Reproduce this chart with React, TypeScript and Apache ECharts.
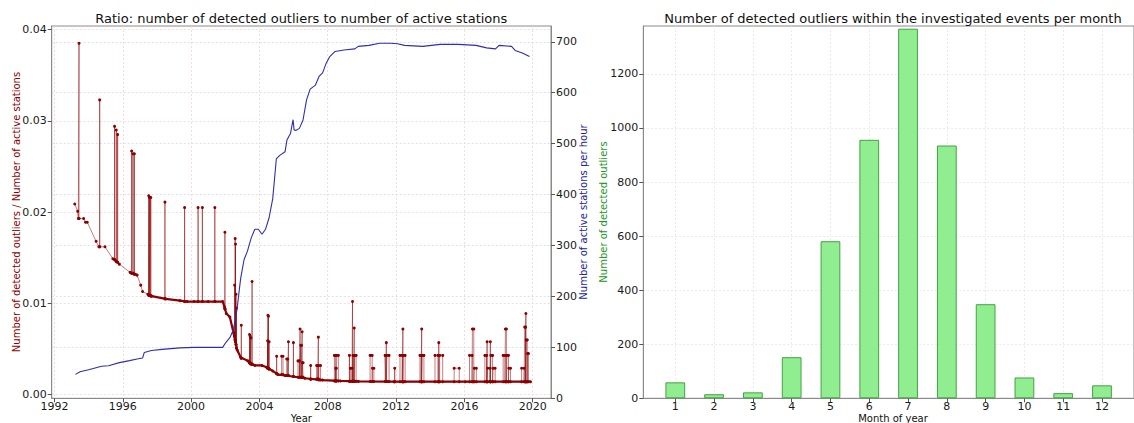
import React, { useEffect, useRef } from "react";
import * as echarts from "echarts";

// ---------- tick labels ----------
const yearTicks = [1992, 1996, 2000, 2004, 2008, 2012, 2016, 2020];
const ratioTicks = [0, 0.01, 0.02, 0.03, 0.04];
const stationTicks = [0, 100, 200, 300, 400, 500, 600, 700];
const countTicks = [0, 200, 400, 600, 800, 1000, 1200];

// ---------- right panel: outliers per month ----------
const months = [1, 2, 3, 4, 5, 6, 7, 8, 9, 10, 11, 12];
const outlierCounts = [59, 15, 22, 152, 581, 956, 1367, 935, 348, 77, 19, 48];

// ---------- left panel: active stations per hour ----------
const stationYears = [
  1993.23, 1993.5, 1994.0, 1994.76, 1995.17, 1995.8, 1996.4, 1996.84, 1997.16, 1997.26,
  1997.68, 1998.3, 1999.35, 2000.18, 2001.0, 2001.85, 2002.02, 2002.27, 2002.48, 2002.69,
  2002.9, 2003.1, 2003.3, 2003.52, 2003.73, 2003.94, 2004.15, 2004.36, 2004.57, 2004.78,
  2004.99, 2005.19, 2005.5, 2005.61, 2005.82, 2005.97, 2006.03, 2006.13, 2006.34, 2006.55,
  2006.76, 2006.97, 2007.28, 2007.49, 2007.7, 2007.91, 2008.12, 2008.43, 2008.95, 2009.58,
  2009.79, 2010.41, 2011.04, 2011.67, 2012.08, 2012.5, 2013.55, 2014.59, 2015.63, 2016.68,
  2017.3, 2017.82, 2018.03, 2018.76, 2018.97, 2019.39, 2019.81,
];
const stationCounts = [
  47, 52, 56, 63, 64, 70, 74, 77, 79, 90,
  94, 96, 99, 100, 100, 100, 109, 119, 135, 175,
  235, 272, 289, 315, 332, 332, 322, 332, 355, 392,
  470, 477, 484, 507, 520, 547, 527, 526, 530, 546,
  586, 607, 615, 632, 639, 658, 671, 681, 684, 686,
  691, 693, 697, 697, 696, 693, 691, 695, 695, 693,
  688, 686, 693, 691, 683, 678, 671,
];

// ---------- left panel: ratio baseline ----------
const baseYears = [
  1993.19, 1993.36, 1993.4, 1993.71, 1993.82, 1993.92, 1994.44, 1994.6, 1994.96, 1995.42,
  1995.58, 1995.8, 1996.43, 1996.74, 1996.84, 1997.05, 1997.16, 1997.47, 1997.7, 1998.51,
  1999.35, 1999.77, 2000.18, 2001.0, 2001.85, 2001.96, 2002.06, 2002.27, 2002.48, 2002.7,
  2002.9, 2003.32, 2003.73, 2004.15, 2004.42, 2004.78, 2005.09, 2005.5, 2006.66, 2007.7,
  2008.74, 2009.79, 2011.87, 2016.05, 2019.87,
];
const baseRatios = [
  0.0209, 0.0201, 0.0193, 0.0193, 0.0189, 0.0189, 0.0168, 0.0162, 0.0162, 0.0149,
  0.0147, 0.0143, 0.0134, 0.0132, 0.0131, 0.012, 0.0113, 0.011, 0.0108, 0.0105,
  0.0103, 0.0102, 0.0102, 0.0102, 0.0102, 0.0096, 0.0089, 0.0085, 0.0068, 0.0049,
  0.0041, 0.0037, 0.0032, 0.0032, 0.003, 0.0026, 0.0022, 0.0021, 0.0018, 0.0016,
  0.0015, 0.00145, 0.00142, 0.00142, 0.00142,
];

// ---------- left panel: outlier spikes [start year, end year, peak ratio, base ratio] ----------
const spikeEvents: [number, number, number, number][] = [
  [1993.44, 1993.44, 0.0385, 0.0193],
  [1994.65, 1994.65, 0.0323, 0.0162],
  [1995.52, 1995.52, 0.0294, 0.0148],
  [1995.62, 1995.62, 0.029, 0.0146],
  [1995.7, 1995.7, 0.0285, 0.0145],
  [1996.52, 1996.52, 0.0267, 0.0133],
  [1996.6, 1996.6, 0.0264, 0.0133],
  [1996.68, 1996.68, 0.0264, 0.0132],
  [1997.52, 1997.52, 0.0218, 0.0109],
  [1997.56, 1997.56, 0.0216, 0.0109],
  [1997.6, 1997.6, 0.0216, 0.0109],
  [1997.64, 1997.64, 0.0216, 0.0108],
  [1998.47, 1998.47, 0.0211, 0.0105],
  [1999.62, 1999.62, 0.0205, 0.0102],
  [2000.41, 2000.41, 0.0205, 0.0102],
  [2000.66, 2000.66, 0.0205, 0.0102],
  [2001.39, 2001.39, 0.0205, 0.0102],
  [2001.98, 2001.98, 0.0178, 0.0094],
  [2002.55, 2002.55, 0.012, 0.0064],
  [2002.58, 2002.58, 0.0171, 0.006],
  [2002.6, 2002.6, 0.0165, 0.0058],
  [2002.63, 2002.63, 0.011, 0.0055],
  [2002.66, 2002.66, 0.0095, 0.0051],
  [2002.94, 2002.94, 0.0076, 0.004],
  [2003.42, 2003.42, 0.0066, 0.0035],
  [2003.46, 2003.46, 0.0064, 0.0034],
  [2003.5, 2003.5, 0.0062, 0.0034],
  [2003.57, 2003.57, 0.0124, 0.0033],
  [2004.48, 2004.48, 0.0059, 0.0029],
  [2004.5, 2004.5, 0.0087, 0.0029],
  [2004.53, 2004.53, 0.0086, 0.0029],
  [2004.57, 2004.57, 0.0058, 0.0028],
  [2005.01, 2005.01, 0.0042, 0.0023],
  [2005.3, 2005.38, 0.0042, 0.0022],
  [2005.6, 2005.66, 0.0039, 0.0021],
  [2005.7, 2005.7, 0.0058, 0.0021],
  [2005.99, 2005.99, 0.0057, 0.002],
  [2006.26, 2006.34, 0.0037, 0.0019],
  [2006.38, 2006.38, 0.0072, 0.0019],
  [2006.42, 2006.46, 0.0054, 0.0019],
  [2006.5, 2006.5, 0.0069, 0.0019],
  [2006.52, 2006.56, 0.0035, 0.0019],
  [2007.0, 2007.0, 0.0032, 0.0017],
  [2007.35, 2007.42, 0.0032, 0.0017],
  [2007.45, 2007.45, 0.0063, 0.0017],
  [2007.48, 2007.58, 0.0032, 0.0016],
  [2008.39, 2008.45, 0.0043, 0.0015],
  [2008.47, 2008.5, 0.0029, 0.0015],
  [2008.52, 2008.62, 0.0043, 0.0015],
  [2009.27, 2009.27, 0.0043, 0.00146],
  [2009.32, 2009.42, 0.0029, 0.00146],
  [2009.45, 2009.45, 0.0102, 0.00146],
  [2009.48, 2009.52, 0.0043, 0.00146],
  [2009.55, 2009.55, 0.0073, 0.00146],
  [2009.58, 2009.66, 0.0043, 0.00146],
  [2010.48, 2010.6, 0.0043, 0.00144],
  [2010.62, 2010.7, 0.0029, 0.00144],
  [2011.36, 2011.4, 0.0043, 0.00143],
  [2011.43, 2011.43, 0.0057, 0.00143],
  [2011.46, 2011.59, 0.0043, 0.00143],
  [2011.92, 2011.92, 0.0029, 0.00142],
  [2012.23, 2012.36, 0.0043, 0.00142],
  [2012.4, 2012.4, 0.0072, 0.00142],
  [2012.43, 2012.53, 0.0043, 0.00142],
  [2013.4, 2013.47, 0.0043, 0.00142],
  [2013.5, 2013.5, 0.0072, 0.00142],
  [2013.53, 2013.63, 0.0043, 0.00142],
  [2014.28, 2014.45, 0.0043, 0.00142],
  [2014.5, 2014.5, 0.0057, 0.00142],
  [2014.55, 2014.73, 0.0043, 0.00142],
  [2015.4, 2015.7, 0.0029, 0.00142],
  [2016.3, 2016.45, 0.0043, 0.00142],
  [2016.47, 2016.55, 0.0072, 0.00142],
  [2016.58, 2016.7, 0.0029, 0.00142],
  [2017.2, 2017.3, 0.0043, 0.00142],
  [2017.33, 2017.33, 0.0058, 0.00142],
  [2017.36, 2017.5, 0.0029, 0.00142],
  [2017.52, 2017.52, 0.0058, 0.00142],
  [2017.55, 2017.65, 0.0043, 0.00142],
  [2017.68, 2017.8, 0.0029, 0.00142],
  [2018.27, 2018.38, 0.0043, 0.00142],
  [2018.4, 2018.46, 0.0072, 0.00142],
  [2018.49, 2018.58, 0.0043, 0.00142],
  [2018.6, 2018.7, 0.0029, 0.00142],
  [2019.35, 2019.5, 0.0029, 0.00142],
  [2019.53, 2019.58, 0.0074, 0.00142],
  [2019.6, 2019.6, 0.0089, 0.00142],
  [2019.62, 2019.68, 0.006, 0.00142],
  [2019.7, 2019.75, 0.0045, 0.00142],
];

const FONT = "DejaVu Sans";

function buildRatioSeries(): [number, number][] {
  const pts: { t: number; v: number; i: number }[] = [];
  let idx = 0;
  baseYears.forEach((t, k) => pts.push({ t, v: baseRatios[k], i: idx++ }));
  spikeEvents.forEach(([s, e, peak, base]) => {
    const seq: [number, number][] =
      s === e
        ? [[s, base], [s, peak], [s, base]]
        : [[s, base], [s, peak], [e, peak], [e, base]];
    seq.forEach(([t, v]) => pts.push({ t, v, i: idx++ }));
  });
  pts.sort((a, b) => a.t - b.t || a.i - b.i);
  return pts.map((p) => [p.t, p.v]);
}

function buildOption(): any {
  const ratioData = buildRatioSeries();
  const denseData = baseYears
    .map((t, k) => [t, baseRatios[k]])
    .filter((p) => p[0] >= 1997.4);
  const stationData = stationYears.map((t, k) => [t, stationCounts[k]]);
  const barData = months.map((m, k) => [m, outlierCounts[k]]);

  const spine = "#8a8a8a";
  const tickStyle = { show: true, length: 4, lineStyle: { color: "#555", width: 1 } };
  const labelBase = { fontSize: 11, lineHeight: 11, color: "#1a1a1a", fontFamily: FONT };

  const txt = (text: string, x: number, y: number, size: number, color: string, rot = 0) => ({
    type: "text",
    x,
    y,
    rotation: rot,
    silent: true,
    style: {
      text,
      fill: color,
      fontSize: size,
      fontFamily: FONT,
      align: "center",
      verticalAlign: "middle",
      textAlign: "center",
      textVerticalAlign: "middle",
    },
  });

  return {
    animation: false,
    backgroundColor: "#ffffff",
    textStyle: { fontFamily: FONT },
    grid: [
      { left: 51.7, top: 26, width: 499.3, height: 372.3, show: true, borderColor: spine, borderWidth: 1, containLabel: false },
      { left: 643.3, top: 26, width: 499.7, height: 372.3, show: true, borderColor: spine, borderWidth: 1, containLabel: false },
    ],
    xAxis: [
      {
        type: "value",
        gridIndex: 0,
        min: 1991.84,
        max: 2021.07,
        axisLine: { show: true, onZero: false, lineStyle: { color: spine } },
        axisTick: { ...tickStyle, customValues: yearTicks },
        axisLabel: { ...labelBase, margin: 3, customValues: yearTicks, formatter: (v: number) => String(Math.round(v)) },
        splitLine: { show: true, lineStyle: { color: "#f2d3d8", type: [2, 2], width: 0.8 } },
      },
      {
        type: "value",
        gridIndex: 1,
        min: 0.175,
        max: 12.825,
        axisLine: { show: true, onZero: false, lineStyle: { color: spine } },
        axisTick: { ...tickStyle, customValues: months },
        axisLabel: { ...labelBase, margin: 3, customValues: months, formatter: (v: number) => String(Math.round(v)) },
        splitLine: { show: true, lineStyle: { color: "#e6e6e6", type: [2, 2], width: 0.8 } },
      },
    ],
    yAxis: [
      {
        type: "value",
        gridIndex: 0,
        position: "left",
        min: -0.0004,
        max: 0.0404,
        axisLine: { show: true, onZero: false, lineStyle: { color: spine } },
        axisTick: { ...tickStyle, customValues: ratioTicks },
        axisLabel: { ...labelBase, margin: 5, customValues: ratioTicks, formatter: (v: number) => v.toFixed(2) },
        splitLine: { show: true, lineStyle: { color: "#f2d3d8", type: [2, 2], width: 0.8 } },
      },
      {
        type: "value",
        gridIndex: 0,
        position: "right",
        min: 0,
        max: 731,
        axisLine: { show: true, onZero: false, lineStyle: { color: spine } },
        axisTick: { ...tickStyle, customValues: stationTicks },
        axisLabel: { ...labelBase, margin: 5, customValues: stationTicks, formatter: (v: number) => String(Math.round(v)) },
        splitLine: { show: true, lineStyle: { color: "#d6d6f0", type: [2, 2], width: 0.8 } },
      },
      {
        type: "value",
        gridIndex: 1,
        position: "left",
        min: 0,
        max: 1377,
        axisLine: { show: true, onZero: false, lineStyle: { color: spine } },
        axisTick: { ...tickStyle, customValues: countTicks },
        axisLabel: { ...labelBase, margin: 5, customValues: countTicks, formatter: (v: number) => String(Math.round(v)) },
        splitLine: { show: true, lineStyle: { color: "#e6e6e6", type: [2, 2], width: 0.8 } },
      },
    ],
    series: [
      {
        name: "Ratio outliers / active stations",
        type: "line",
        xAxisIndex: 0,
        yAxisIndex: 0,
        data: ratioData,
        showAllSymbol: true,
        symbol: "circle",
        symbolSize: 3,
        itemStyle: { color: "#8b0000", borderWidth: 0 },
        lineStyle: { color: "rgba(139,0,0,0.5)", width: 1 },
        silent: true,
        z: 2,
      },
      {
        name: "Ratio baseline",
        type: "line",
        xAxisIndex: 0,
        yAxisIndex: 0,
        data: denseData,
        showSymbol: false,
        lineStyle: { color: "#8b0000", width: 2.2 },
        silent: true,
        z: 3,
      },
      {
        name: "Active stations per hour",
        type: "line",
        xAxisIndex: 0,
        yAxisIndex: 1,
        data: stationData,
        showSymbol: false,
        lineStyle: { color: "#2e2eb0", width: 1.1 },
        silent: true,
        z: 4,
      },
      {
        name: "Detected outliers",
        type: "bar",
        xAxisIndex: 1,
        yAxisIndex: 2,
        data: barData,
        barWidth: 19.75,
        itemStyle: { color: "#90ee90", borderColor: "#45a045", borderWidth: 1 },
        silent: true,
      },
    ],
    graphic: [
      txt("Ratio: number of detected outliers to number of active stations", 301.3, 18.5, 13, "#111"),
      txt("Number of detected outliers within the investigated events per month", 893, 18.5, 13, "#111"),
      txt("Year", 301.3, 418.5, 10, "#111"),
      txt("Month of year", 893, 418.5, 10, "#111"),
      txt("Number of detected outliers / Number of active stations", 16, 212, 10, "#8b0000", Math.PI / 2),
      txt("Number of active stations per hour", 583, 212, 10, "#1c1c9a", Math.PI / 2),
      txt("Number of detected outliers", 603, 212, 10, "#229622", Math.PI / 2),
    ],
  };
}

export default function App() {
  const ref = useRef<HTMLDivElement>(null);
  useEffect(() => {
    if (!ref.current) return;
    const chart = echarts.init(ref.current, null, { renderer: "svg" });
    chart.setOption(buildOption());
    return () => chart.dispose();
  }, []);
  return (
    <div
      ref={ref}
      style={{ position: "fixed", left: 0, top: 0, width: 1134, height: 423, background: "#fff" }}
    />
  );
}
